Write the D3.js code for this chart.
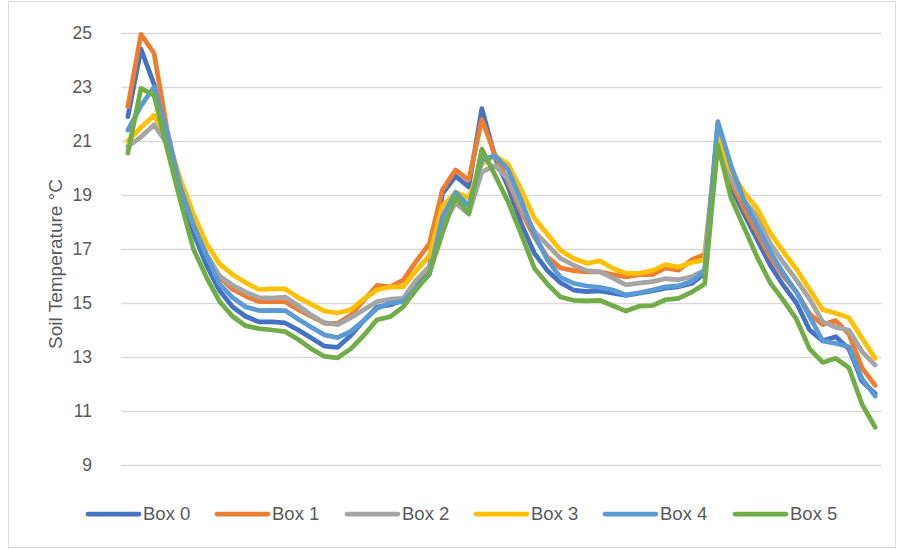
<!DOCTYPE html>
<html>
<head>
<meta charset="utf-8">
<script src="https://cdn.jsdelivr.net/npm/d3@7"></script>
<style>
  html, body { margin: 0; padding: 0; background: #fff; }
  svg { display: block; }
</style>
</head>
<body>
<svg id="chart" width="897" height="550"></svg>
<script>
const categories = [1,2,3,4,5,6,7,8,9,10,11,12,13,14,15,16,17,18,19,20,21,22,23,24,25,26,27,28,29,30,31,32,33,34,35,36,37,38,39,40,41,42,43,44,45,46,47,48,49,50,51,52,53,54,55,56,57,58];
const seriesNames = ["Box 0", "Box 1", "Box 2", "Box 3", "Box 4", "Box 5"];
const yTicks = [9, 11, 13, 15, 17, 19, 21, 23, 25];

const box0 = [21.9,24.4,23.1,21.0,19.0,17.6,16.4,15.45,14.85,14.5,14.3,14.3,14.26,14.0,13.7,13.4,13.36,13.8,14.35,14.85,14.93,15.1,15.7,16.35,19.05,19.7,19.3,22.2,20.4,19.3,17.95,16.85,16.2,15.75,15.48,15.42,15.45,15.36,15.28,15.36,15.45,15.55,15.6,15.72,16.1,21.6,19.3,18.3,17.35,16.4,15.65,15.0,14.0,13.6,13.75,13.3,12.1,11.65];
const box1 = [22.27,24.95,24.25,21.4,19.3,17.9,16.8,15.95,15.5,15.25,15.05,15.05,15.05,14.75,14.5,14.25,14.25,14.55,15.1,15.65,15.6,15.85,16.55,17.2,19.2,19.93,19.55,21.8,20.5,19.5,18.4,17.45,16.7,16.3,16.2,16.15,16.15,16.05,15.97,16.05,16.05,16.3,16.22,16.6,16.8,21.4,19.5,18.5,17.6,16.7,16.0,15.4,14.6,14.2,14.35,13.85,12.6,11.95];
const box2 = [20.8,21.15,21.6,20.9,19.3,17.9,16.8,16.0,15.65,15.4,15.2,15.18,15.22,14.9,14.55,14.27,14.2,14.45,14.75,15.05,15.14,15.17,15.85,16.35,17.9,18.7,18.3,19.85,20.1,19.6,18.55,17.65,17.15,16.65,16.4,16.2,16.15,15.92,15.67,15.74,15.79,15.9,15.86,15.97,16.22,21.1,19.6,18.8,18.2,17.2,16.5,15.85,15.15,14.3,14.1,14.0,13.2,12.7];
const box3 = [21.0,21.5,21.95,21.1,19.6,18.3,17.2,16.45,16.05,15.75,15.5,15.52,15.52,15.2,14.95,14.7,14.63,14.75,15.15,15.48,15.6,15.6,16.2,16.75,18.6,19.1,18.9,20.15,20.45,20.15,19.2,18.15,17.55,16.95,16.65,16.47,16.56,16.28,16.1,16.1,16.2,16.42,16.33,16.5,16.6,21.1,19.9,19.1,18.5,17.6,16.9,16.25,15.5,14.75,14.62,14.45,13.7,12.95];
const box4 = [21.4,22.3,23.0,21.3,19.3,17.9,16.75,15.7,15.2,14.85,14.72,14.73,14.72,14.4,14.1,13.82,13.72,13.95,14.35,14.8,15.0,15.05,15.55,16.05,18.2,19.1,18.6,20.3,20.45,19.95,18.8,17.55,16.6,15.95,15.73,15.63,15.58,15.48,15.3,15.38,15.48,15.6,15.63,15.8,16.2,21.72,20.1,18.8,17.85,16.9,16.1,15.4,14.5,13.6,13.5,13.38,12.2,11.55];
const box5 = [20.55,22.95,22.7,20.7,18.8,17.0,15.95,15.05,14.5,14.15,14.05,14.0,13.94,13.65,13.3,13.02,12.97,13.3,13.8,14.38,14.49,14.86,15.5,16.1,17.6,18.95,18.3,20.7,19.74,18.75,17.55,16.3,15.7,15.22,15.1,15.08,15.1,14.9,14.7,14.88,14.9,15.12,15.17,15.4,15.7,20.85,18.9,17.8,16.7,15.75,15.1,14.4,13.3,12.8,12.95,12.6,11.25,10.4];

const colors = ["#4472C4", "#ED7D31", "#A5A5A5", "#FFC000", "#5B9BD5", "#70AD47"];
const allSeries = [box0, box1, box2, box3, box4, box5];

const svg = d3.select("#chart");
const FONT = "'Liberation Sans', Arial, sans-serif";

// outer frame
svg.append("rect")
  .attr("x", 8.5).attr("y", 1.5)
  .attr("width", 887).attr("height", 546)
  .attr("fill", "#fff").attr("stroke", "#d9d9d9").attr("stroke-width", 1);

const plotLeft = 121.3, plotRight = 881.7, plotTop = 33, plotBottom = 465;

const x = d3.scalePoint().domain(categories).range([plotLeft, plotRight]).padding(0.5);
const y = d3.scaleLinear().domain([9, 25]).range([plotBottom, plotTop]);

// gridlines
svg.append("g")
  .selectAll("line")
  .data(yTicks)
  .join("line")
  .attr("x1", plotLeft).attr("x2", plotRight)
  .attr("y1", d => Math.round(y(d)) + 0.5).attr("y2", d => Math.round(y(d)) + 0.5)
  .attr("stroke", "#d9d9d9").attr("stroke-width", 1.3);

// y axis labels via d3 axis
const yAxis = d3.axisLeft(y).tickValues(yTicks).tickSize(0).tickPadding(0).tickFormat(d3.format("d"));
const gY = svg.append("g").attr("transform", "translate(92,0)").call(yAxis);
gY.select(".domain").remove();
gY.selectAll("text")
  .attr("font-family", FONT).attr("font-size", 17.5).attr("fill", "#595959");

// y title
svg.append("text")
  .attr("transform", "translate(62,264) rotate(-90)")
  .attr("text-anchor", "middle")
  .attr("font-family", FONT).attr("font-size", 19).attr("fill", "#595959")
  .text("Soil Temperature °C");

// lines
const line = d3.line()
  .x((d, i) => x(categories[i]))
  .y(d => y(d));

svg.append("g")
  .selectAll("path")
  .data(allSeries)
  .join("path")
  .attr("d", d => line(d))
  .attr("fill", "none")
  .attr("stroke", (d, i) => colors[i])
  .attr("stroke-width", 4.75)
  .attr("stroke-linejoin", "round")
  .attr("stroke-linecap", "round");

// legend
const legendX = [88, 217, 347, 476, 605, 735];
const lg = svg.append("g");
seriesNames.forEach((name, i) => {
  lg.append("line")
    .attr("x1", legendX[i]).attr("x2", legendX[i] + 51)
    .attr("y1", 514).attr("y2", 514)
    .attr("stroke", colors[i]).attr("stroke-width", 4.75)
    .attr("stroke-linecap", "round");
  lg.append("text")
    .attr("x", legendX[i] + 55).attr("y", 514)
    .attr("dy", "0.35em")
    .attr("font-family", FONT).attr("font-size", 18.5).attr("fill", "#595959")
    .text(name);
});
</script>
</body>
</html>
